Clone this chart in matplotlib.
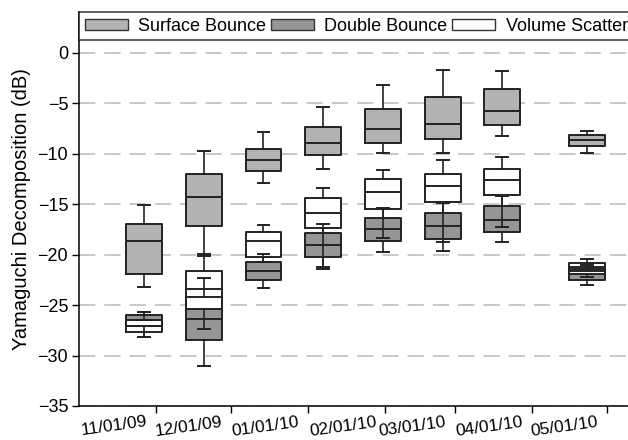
import matplotlib
matplotlib.use('Agg')
import matplotlib.pyplot as plt
import matplotlib.dates as mdates
from matplotlib.patches import Patch
from matplotlib.transforms import ScaledTranslation
import datetime as dt

plt.rcParams['font.family'] = ['Liberation Sans', 'DejaVu Sans']

# acquisition dates (one box per date and per component)
fechas = ['2009-10-27', '2009-11-20', '2009-12-14', '2010-01-07',
          '2010-01-31', '2010-02-24', '2010-03-20', '2010-04-23']

# Surface Bounce (dB)
sup_whishi = [-15.1, -9.7, -7.9, -5.4, -3.2, -1.7, -1.8, -7.8]
sup_q3 = [-17.0, -12.0, -9.5, -7.4, -5.6, -4.4, -3.6, -8.2]
sup_med = [-18.7, -14.3, -10.6, -8.9, -7.6, -7.1, -5.8, -8.7]
sup_q1 = [-21.9, -17.2, -11.7, -10.1, -8.9, -8.6, -7.2, -9.2]
sup_whislo = [-23.2, -19.9, -12.9, -11.5, -9.9, -9.9, -8.3, -9.9]

# Double Bounce (dB)
dbl_whishi = [-25.7, -22.3, -19.9, -17.0, -15.4, -14.9, -14.2, -21.0]
dbl_q3 = [-26.0, -24.2, -20.7, -17.9, -16.4, -15.9, -15.2, -21.4]
dbl_med = [-26.5, -26.4, -21.6, -19.1, -17.5, -17.2, -16.6, -21.6]
dbl_q1 = [-27.1, -28.5, -22.5, -20.2, -18.7, -18.5, -17.8, -22.5]
dbl_whislo = [-28.2, -31.0, -23.3, -21.4, -19.7, -19.6, -18.8, -23.0]

# Volume Scatter (dB)
vol_whishi = [-25.7, -20.1, -17.1, -13.4, -11.6, -10.6, -10.3, -20.4]
vol_q3 = [-26.5, -21.6, -17.8, -14.4, -12.5, -12.0, -11.5, -20.8]
vol_med = [-27.1, -23.4, -18.7, -15.9, -13.8, -13.2, -12.6, -21.2]
vol_q1 = [-27.7, -25.4, -20.2, -17.4, -15.5, -14.8, -14.1, -21.9]
vol_whislo = [-28.2, -27.4, -20.7, -21.2, -18.4, -18.8, -17.3, -22.2]

series = [
    ('Surface Bounce', '#b3b3b3', sup_whislo, sup_q1, sup_med, sup_q3, sup_whishi),
    ('Double Bounce', '#959595', dbl_whislo, dbl_q1, dbl_med, dbl_q3, dbl_whishi),
    ('Volume Scatter', '#ffffff', vol_whislo, vol_q1, vol_med, vol_q3, vol_whishi),
]

pos = mdates.date2num([dt.datetime.strptime(f, '%Y-%m-%d') for f in fechas])
ancho = 14.4  # days
borde = '#222222'

fig = plt.figure(figsize=(6.28, 4.40), dpi=100)
ax = fig.add_axes([0.1263, 0.0773, 0.8737, 0.8948])

for nombre, color, lo, q1, med, q3, hi in series:
    stats = [dict(whislo=lo[i], q1=q1[i], med=med[i], q3=q3[i], whishi=hi[i], fliers=[])
             for i in range(len(fechas))]
    # rellenos primero
    ax.bxp(stats, positions=pos, widths=ancho, patch_artist=True, showcaps=False,
           manage_ticks=False,
           boxprops=dict(facecolor=color, edgecolor='none', zorder=2),
           whiskerprops=dict(visible=False), medianprops=dict(visible=False))
    # lineas encima
    ax.bxp(stats, positions=pos, widths=ancho, capwidths=ancho * 0.33, manage_ticks=False,
           boxprops=dict(color=borde, linewidth=1.4, zorder=3),
           whiskerprops=dict(color=borde, linewidth=1.2, zorder=3),
           capprops=dict(color=borde, linewidth=1.4, zorder=3),
           medianprops=dict(color=borde, linewidth=1.4, zorder=3))

# ejes
ax.set_ylim(-35, 4)
ax.set_yticks(range(-35, 1, 5))
ax.set_xlim(mdates.date2num(dt.datetime(2009, 10, 1)),
            mdates.date2num(dt.datetime(2010, 5, 9, 12)))
ax.xaxis.set_major_locator(mdates.MonthLocator(bymonth=[11, 12, 1, 2, 3, 4, 5], bymonthday=1))
ax.xaxis.set_major_formatter(mdates.DateFormatter('%m/%d/%y'))
ax.tick_params(axis='both', direction='out', length=5, width=1, labelsize=13, colors='black')
ax.tick_params(axis='x', pad=1, labelsize=12.5)
ax.tick_params(axis='y', pad=3)
for lab in ax.get_xticklabels():
    lab.set_rotation(8)
    lab.set_ha('right')
    lab.set_va('top')
    lab.set_rotation_mode('anchor')
    lab.set_transform(lab.get_transform() + ScaledTranslation(-0.10, 0, fig.dpi_scale_trans))

ax.spines['top'].set_visible(False)
ax.spines['right'].set_visible(False)
ax.spines['left'].set_linewidth(1.1)
ax.spines['bottom'].set_linewidth(1.1)

ax.yaxis.grid(True, color='#c4c4c4', linewidth=1.3, dashes=(9, 5), zorder=0)
ax.set_axisbelow(True)
ax.set_ylabel('Yamaguchi Decomposition (dB)', fontsize=14.5, labelpad=5)

# leyenda
handles = [Patch(facecolor=c, edgecolor='#333333', linewidth=1.0, label=n)
           for n, c, *_ in series]
leg = ax.legend(handles=handles, ncol=3, loc='upper left', bbox_to_anchor=(0, 1),
                borderaxespad=0, fontsize=13, frameon=True, fancybox=False,
                handlelength=2.37, handleheight=0.52, handletextpad=0.6,
                columnspacing=0.25, borderpad=0.3)
leg.get_frame().set_edgecolor('black')
leg.get_frame().set_linewidth(1.1)

fig.savefig('out.png', dpi=100)
